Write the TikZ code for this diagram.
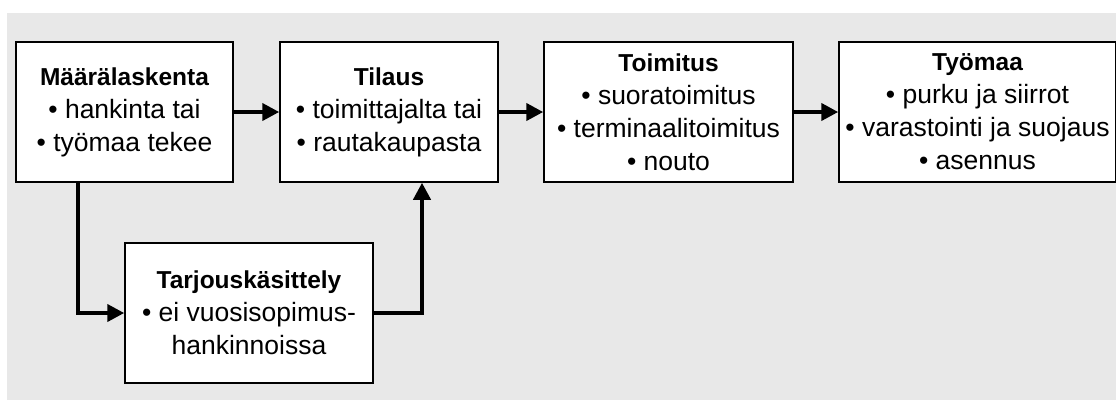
\documentclass[tikz,border=0pt]{standalone}
\usepackage{fontspec}
\setmainfont{Liberation Sans}
\usetikzlibrary{arrows.meta}
\newcommand{\hd}[1]{{\fontsize{24.5}{33}\selectfont\bfseries #1}}
\begin{document}
\begin{tikzpicture}[x=1pt,y=-1pt,
  stagebox/.style={draw=black, line width=1.5pt, fill=white, align=center, inner sep=0pt,
    minimum height=140pt, font=\fontsize{26.5}{33}\selectfont},
  flow/.style={line width=4pt, -{Triangle[length=17pt,width=17pt]}}]
\useasboundingbox (0,0) rectangle (1116,400);
\fill[gray!18] (7,13) rectangle (1116,400);
\node[stagebox, minimum width=217pt] (maara) at (124.5,112) {\hd{Määrälaskenta}\\• hankinta tai\\• työmaa tekee};
\node[stagebox, minimum width=218pt] (tilaus) at (389,112) {\hd{Tilaus}\\• toimittajalta tai\\• rautakaupasta};
\node[stagebox, minimum width=249pt] (toimitus) at (668.5,112) {\hd{Toimitus}\\• suoratoimitus\\• terminaalitoimitus\\• nouto};
\node[stagebox, minimum width=277pt] (tyomaa) at (977.5,112) {\hd{Työmaa}\\• purku ja siirrot\\• varastointi ja suojaus\\• asennus};
\node[stagebox, minimum width=248pt] (tarjous) at (249,313) {\hd{Tarjouskäsittely}\\• ei vuosisopimus-\\hankinnoissa};
\coordinate (c1) at (78,313);
\coordinate (c2) at (422,313);
\draw[flow] (maara.east) -- (tilaus.west);
\draw[flow] (tilaus.east) -- (toimitus.west);
\draw[flow] (toimitus.east) -- (tyomaa.west);
\draw[flow] (maara.south -| c1) -- (c1) -- (tarjous.west);
\draw[flow] (tarjous.east) -- (c2) -- (tilaus.south -| c2);
\end{tikzpicture}
\end{document}
